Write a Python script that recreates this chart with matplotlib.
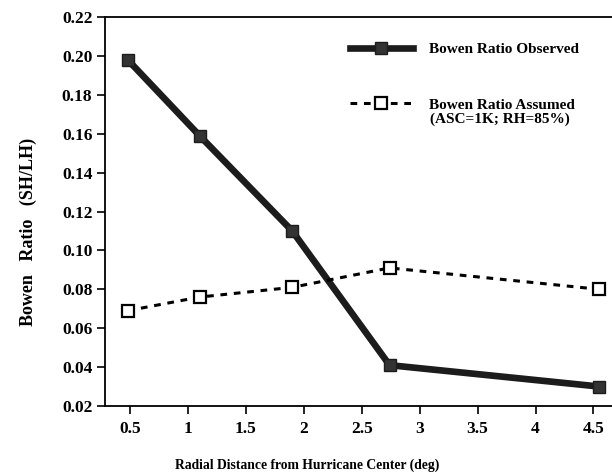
import matplotlib
matplotlib.use("Agg")
import matplotlib.pyplot as plt
from matplotlib.lines import Line2D

plt.rcParams['font.family'] = ['Liberation Serif', 'DejaVu Serif']
plt.rcParams['font.weight'] = 'bold'

# radial distance (deg) and Bowen ratios
radius = [0.48, 1.10, 1.90, 2.74, 4.55]
bowen_obs = [0.198, 0.159, 0.110, 0.041, 0.030]
bowen_assumed = [0.069, 0.076, 0.081, 0.091, 0.080]

yticks = [0.02, 0.04, 0.06, 0.08, 0.10, 0.12, 0.14, 0.16, 0.18, 0.20, 0.22]
xticks = [0.5, 1, 1.5, 2, 2.5, 3, 3.5, 4, 4.5]

fig = plt.figure(figsize=(6.12, 4.75), dpi=100)
ax = fig.add_axes([105/612, 1-406/475, 507/612, 389/475])

obs_line, = ax.plot(radius, bowen_obs, color='#1c1c1c', lw=4.8,
                    marker='s', ms=8, mfc='#333333', mec='#1c1c1c',
                    solid_joinstyle='miter', clip_on=False, zorder=3)
ass_line, = ax.plot(radius, bowen_assumed, color='black', lw=2.2,
                    ls=(0, (2.2, 2.2)), marker='s', ms=9, mfc='white',
                    mec='black', mew=1.6, clip_on=False, zorder=4)

ax.set_xlim(0.284, 4.66)
ax.set_ylim(0.02, 0.22)
ax.set_xticks(xticks)
ax.set_xticklabels([f'{v:g}' for v in xticks])
ax.set_yticks(yticks)
ax.set_yticklabels([f'{v:.2f}' for v in yticks])
ax.tick_params(axis='both', direction='out', length=6, width=1.2,
               labelsize=12.5, colors='black')
ax.tick_params(axis='x', pad=5)
ax.tick_params(axis='y', pad=3)

ax.spines['right'].set_visible(False)
for s in ['left', 'bottom', 'top']:
    ax.spines[s].set_linewidth(1.3)

ax.set_xlabel('Radial Distance from Hurricane Center (deg)', fontsize=9.8,
              fontweight='bold')
ax.xaxis.set_label_coords(0.398, -0.136)
ax.set_ylabel('Bowen   Ratio   (SH/LH)', fontsize=13, fontweight='bold')
ax.yaxis.set_label_coords(-0.134, 0.447)

h1 = Line2D([], [], color='#1c1c1c', lw=4.8, marker='s', ms=8,
            mfc='#333333', mec='#1c1c1c')
h2 = Line2D([], [], color='black', lw=2.2, ls=(0, (2.2, 2.2)), marker='s',
            ms=9, mfc='white', mec='black', mew=1.6)
ax.legend([h1, h2], ['Bowen Ratio Observed', 'Bowen Ratio Assumed'],
          loc='upper left', bbox_to_anchor=(0.483, 0.935), frameon=False,
          fontsize=11, handlelength=4.1, handletextpad=1.1,
          labelspacing=2.75, borderpad=0, borderaxespad=0)
ax.text(0.641, 0.737, '(ASC=1K; RH=85%)', transform=ax.transAxes,
        fontsize=11, fontweight='bold', va='center', ha='left')

fig.savefig('out.png', dpi=100)
